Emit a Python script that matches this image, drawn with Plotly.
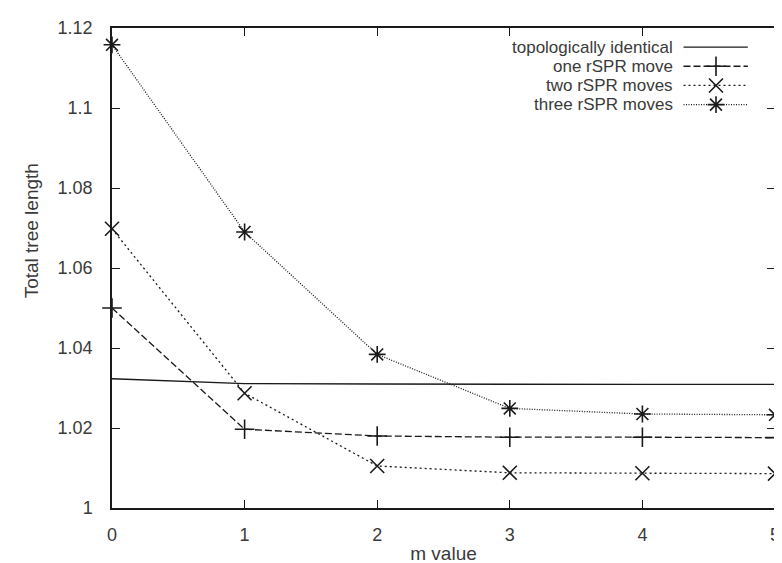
import plotly.graph_objects as go

m_values = [0, 1, 2, 3, 4, 5]
topologically_identical = [1.0323, 1.0311, 1.0310, 1.0309, 1.0309, 1.0309]
one_rspr = [1.0500, 1.0197, 1.0180, 1.0177, 1.0177, 1.0176]
two_rspr = [1.0698, 1.0287, 1.0105, 1.0088, 1.0087, 1.0086]
three_rspr = [1.1158, 1.0690, 1.0384, 1.0249, 1.0235, 1.0233]

series_names = ["topologically identical", "one rSPR move", "two rSPR moves", "three rSPR moves"]
series_values = [topologically_identical, one_rspr, two_rspr, three_rspr]
dashes = ["solid", "7px,3px", "2px,3px", "1px,1.5px"]
symbols = [None, "cross-thin-open", "x-thin-open", "asterisk-open"]

x_ticks = [0, 1, 2, 3, 4, 5]
y_ticks = [1.0, 1.02, 1.04, 1.06, 1.08, 1.1, 1.12]
y_tick_text = ["1", "1.02", "1.04", "1.06", "1.08", "1.1", "1.12"]

INK = "#1a1a1a"
TXT = "#3a3a3a"
FONT = "Liberation Sans, Arial, sans-serif"

fig = go.Figure()
for name, vals, dash, sym in zip(series_names, series_values, dashes, symbols):
    fig.add_trace(go.Scatter(
        x=m_values, y=vals, name=name,
        mode="lines" if sym is None else "lines+markers",
        line=dict(color=INK, width=1.4 if sym is None else 1.3, dash=dash),
        marker=dict(symbol=sym or "circle", size=14, color=INK,
                    line=dict(color=INK, width=1.6)),
        cliponaxis=False, showlegend=False,
    ))

# custom legend (text right-aligned, sample to the right), in overlay axis units
leg_rows_y = [0.9602, 0.9203, 0.8803, 0.8404]
for name, dash, sym, ly in zip(series_names, dashes, symbols, leg_rows_y):
    fig.add_trace(go.Scatter(
        x=[0.862, 0.959], y=[ly, ly], xaxis="x2", yaxis="y2", mode="lines",
        line=dict(color=INK, width=1.4 if sym is None else 1.3, dash=dash),
        showlegend=False, hoverinfo="skip", cliponaxis=False,
    ))
    if sym is not None:
        fig.add_trace(go.Scatter(
            x=[0.911], y=[ly], xaxis="x2", yaxis="y2", mode="markers",
            marker=dict(symbol=sym, size=14, color=INK, line=dict(color=INK, width=1.6)),
            showlegend=False, hoverinfo="skip", cliponaxis=False,
        ))
    fig.add_annotation(x=0.847, y=ly, xref="paper", yref="paper", text=name,
                       showarrow=False, xanchor="right", yanchor="middle",
                       borderpad=0,
                       font=dict(family=FONT, size=17, color=TXT))

# y-axis title (placed like the original, above the plot centre)
fig.add_annotation(x=-0.121, y=0.578, xref="paper", yref="paper",
                   text="Total tree length", textangle=-90, showarrow=False,
                   xanchor="center", yanchor="middle",
                   font=dict(family=FONT, size=19, color=TXT))

fig.update_layout(
    width=782, height=563,
    margin=dict(l=104, r=10, t=12.5, b=60),
    paper_bgcolor="white", plot_bgcolor="white",
    font=dict(family=FONT, size=18, color=TXT),
    xaxis=dict(
        range=[0, 5], tickvals=x_ticks, ticks="inside", ticklen=8, tickwidth=1.2,
        tickcolor=INK, showline=True, linecolor=INK, linewidth=1.5, mirror="ticks",
        showgrid=False, zeroline=False,
        title=dict(text="m value", standoff=2, font=dict(size=19)),
        tickfont=dict(size=18), ticklabelstandoff=10,
    ),
    yaxis=dict(
        range=[1.0, 1.12], tickvals=y_ticks, ticktext=y_tick_text, ticks="inside",
        ticklen=8, tickwidth=1.2, tickcolor=INK, showline=True, linecolor=INK,
        linewidth=1.5, mirror="ticks", showgrid=False, zeroline=False,
        tickfont=dict(size=18), ticklabelstandoff=14,
    ),
    xaxis2=dict(range=[0, 1], overlaying="x", visible=False, fixedrange=True),
    yaxis2=dict(range=[0, 1], overlaying="y", visible=False, fixedrange=True),
)

fig.write_html("out.html")
